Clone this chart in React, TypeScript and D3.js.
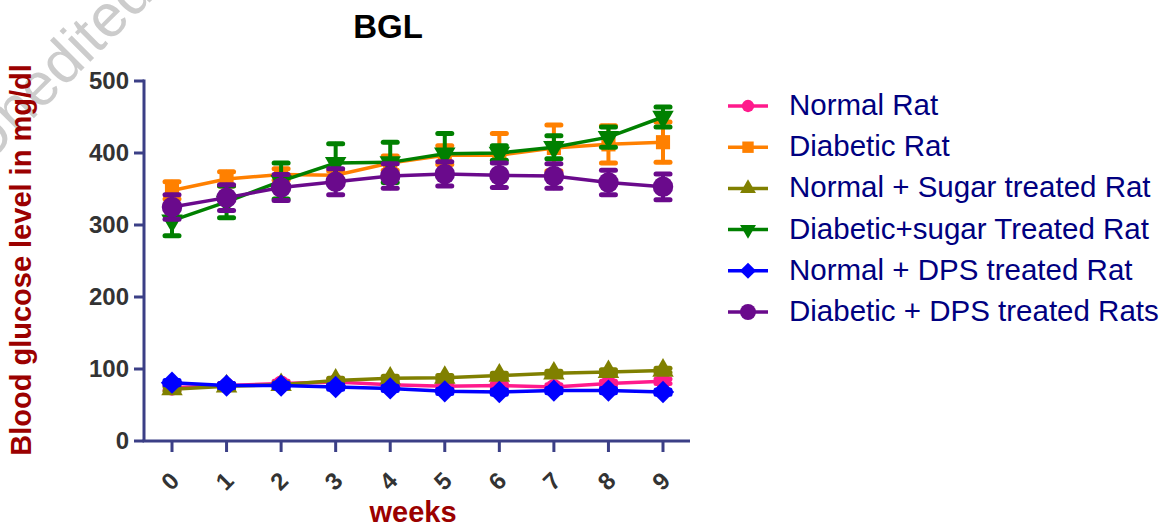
import React from 'react';
import * as d3 from 'd3';

// weeks on the x axis
const weeks = [0, 1, 2, 3, 4, 5, 6, 7, 8, 9];
const yTicks = [0, 100, 200, 300, 400, 500];

// mean blood glucose (mg/dl) per group
const normalRat = [74, 77, 80, 82, 78, 76, 77, 75, 80, 83];
const diabeticRat = [348, 364, 370, 369, 386, 397, 397, 407, 412, 415];
const normalSugar = [72, 76, 78, 84, 87, 88, 91, 94, 96, 98];
const diabeticSugar = [306, 332, 361, 386, 387, 399, 400, 408, 422, 450];
const normalDps = [81, 77, 77, 75, 73, 69, 68, 70, 70, 68];
const diabeticDps = [325, 338, 352, 360, 368, 371, 369, 368, 359, 353];

// error bars (SEM)
const normalRatErr = [3, 3, 3, 3, 3, 3, 3, 3, 3, 3];
const diabeticRatErr = [12, 10, 8, 6, 10, 13, 30, 32, 26, 28];
const normalSugarErr = [3, 3, 3, 3, 3, 3, 3, 3, 3, 3];
const diabeticSugarErr = [21, 22, 25, 27, 28, 28, 10, 16, 14, 14];
const normalDpsErr = [3, 3, 3, 3, 3, 3, 3, 3, 3, 3];
const diabeticDpsErr = [17, 18, 18, 18, 17, 17, 17, 17, 17, 18];

const seriesNames = [
  'Normal Rat',
  'Diabetic Rat',
  'Normal + Sugar treated Rat',
  'Diabetic+sugar Treated Rat',
  'Normal + DPS treated Rat',
  'Diabetic + DPS treated Rats',
];

const FONT = 'Arial, "Liberation Sans", sans-serif';

const series = [
  { name: seriesNames[0], values: normalRat, err: normalRatErr, color: '#ff1a8c', sym: d3.symbolCircle, size: 200, lsize: 120, rot: 0 },
  { name: seriesNames[1], values: diabeticRat, err: diabeticRatErr, color: '#ff8000', sym: d3.symbolSquare, size: 200, lsize: 130, rot: 0 },
  { name: seriesNames[2], values: normalSugar, err: normalSugarErr, color: '#808000', sym: d3.symbolTriangle, size: 200, lsize: 110, rot: 0 },
  { name: seriesNames[3], values: diabeticSugar, err: diabeticSugarErr, color: '#008000', sym: d3.symbolTriangle, size: 200, lsize: 110, rot: 180 },
  { name: seriesNames[4], values: normalDps, err: normalDpsErr, color: '#0000ff', sym: d3.symbolSquare, size: 250, lsize: 130, rot: 45 },
  { name: seriesNames[5], values: diabeticDps, err: diabeticDpsErr, color: '#6a0a8c', sym: d3.symbolCircle, size: 330, lsize: 200, rot: 0 },
];

export default function App() {
  const width = 1175;
  const height = 530;

  const x = d3.scaleLinear().domain([0, 9]).range([172, 663]);
  const y = d3.scaleLinear().domain([0, 500]).range([441, 81]);

  const axisX = 144;
  const axisY = 441;
  const axisColor = '#3b3f86';

  const line = d3
    .line<number>()
    .x((d, i) => x(weeks[i]))
    .y(d => y(d));

  const legendY = d3.scaleLinear().domain([0, 5]).range([106, 312]);

  return (
    <svg width={width} height={height} style={{ display: 'block', position: 'absolute', left: 0, top: 0 }}>
      {/* watermark, cut by the corner as in the source */}
      <text
        x={-14}
        y={166}
        transform="rotate(-45,-14,166)"
        fontFamily={FONT}
        fontSize={60}
        fill="#cccccc"
      >
        Unedited
      </text>

      {/* title */}
      <text x={388} y={38} textAnchor="middle" fontFamily={FONT} fontSize={33} fontWeight="bold" fill="#000">
        BGL
      </text>

      {/* axes */}
      <line x1={axisX} x2={axisX} y1={y(500) - 1.5} y2={axisY} stroke={axisColor} strokeWidth={3} />
      <line x1={axisX - 1.5} x2={690} y1={axisY} y2={axisY} stroke={axisColor} strokeWidth={3} />
      {yTicks.map(t => (
        <g key={'yt' + t}>
          <line x1={134} x2={axisX} y1={y(t)} y2={y(t)} stroke={axisColor} strokeWidth={3} />
          <text
            x={129}
            y={y(t)}
            dy="0.35em"
            textAnchor="end"
            fontFamily={FONT}
            fontSize={24}
            fontWeight="bold"
            fill="#333"
          >
            {t}
          </text>
        </g>
      ))}
      {weeks.map(w => (
        <g key={'xt' + w}>
          <line x1={x(w)} x2={x(w)} y1={axisY} y2={452} stroke={axisColor} strokeWidth={3} />
          <text
            x={x(w) - 2}
            y={481}
            dy="0.35em"
            transform={`rotate(-45,${x(w) - 2},481)`}
            textAnchor="middle"
            fontFamily={FONT}
            fontSize={24}
            fontWeight="bold"
            fill="#333"
          >
            {w}
          </text>
        </g>
      ))}

      {/* axis titles */}
      <text
        x={31}
        y={260}
        transform="rotate(-90,31,260)"
        textAnchor="middle"
        fontFamily={FONT}
        fontSize={29}
        fontWeight="bold"
        fill="#9b0000"
      >
        Blood glucose level in mg/dl
      </text>
      <text x={413} y={522} textAnchor="middle" fontFamily={FONT} fontSize={29} fontWeight="bold" fill="#9b0000">
        weeks
      </text>

      {/* series */}
      {series.map(s => (
        <g key={s.name}>
          {s.values.map((v, i) => (
            <g key={i} stroke={s.color} strokeWidth={4} strokeLinecap="round">
              <line x1={x(weeks[i])} x2={x(weeks[i])} y1={y(v - s.err[i])} y2={y(v + s.err[i])} />
              <line x1={x(weeks[i]) - 7} x2={x(weeks[i]) + 7} y1={y(v + s.err[i])} y2={y(v + s.err[i])} strokeWidth={5} />
              <line x1={x(weeks[i]) - 7} x2={x(weeks[i]) + 7} y1={y(v - s.err[i])} y2={y(v - s.err[i])} strokeWidth={5} />
            </g>
          ))}
          <path d={line(s.values) || ''} fill="none" stroke={s.color} strokeWidth={3.5} />
          {s.values.map((v, i) => (
            <path
              key={'m' + i}
              d={d3.symbol().type(s.sym).size(s.size)() || ''}
              transform={`translate(${x(weeks[i])},${y(v)}) rotate(${s.rot})`}
              fill={s.color}
            />
          ))}
        </g>
      ))}

      {/* legend */}
      {series.map((s, i) => (
        <g key={'lg' + i} transform={`translate(0,${legendY(i)})`}>
          <line x1={728} x2={768} y1={0} y2={0} stroke={s.color} strokeWidth={3.5} />
          <path
            d={d3.symbol().type(s.sym).size(s.lsize)() || ''}
            transform={`translate(748,0) rotate(${s.rot})`}
            fill={s.color}
          />
          <text x={789} y={9} fontFamily={FONT} fontSize={29.5} fill="#000080">
            {s.name}
          </text>
        </g>
      ))}
    </svg>
  );
}
